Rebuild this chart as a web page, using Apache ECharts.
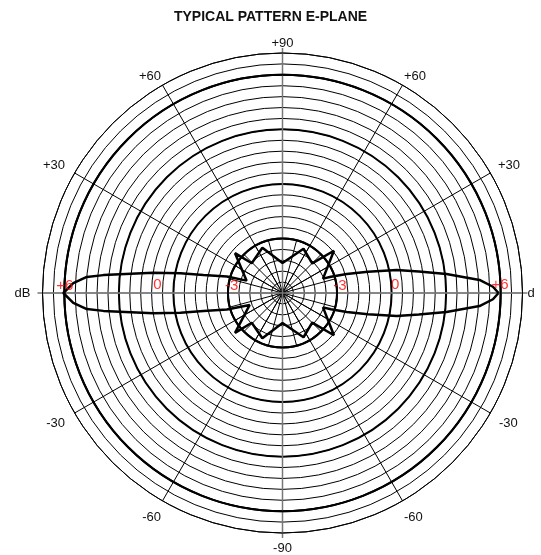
<!DOCTYPE html>
<html><head><meta charset="utf-8">
<script src="https://cdn.jsdelivr.net/npm/echarts@6/dist/echarts.min.js"></script>
<style>html,body{margin:0;padding:0;background:#fff}#c{width:541px;height:555px}</style>
</head><body><div id="c"></div>
<script>
// ---- data ----
const chartTitle = 'TYPICAL PATTERN E-PLANE';
const ringCount = 22;          // number of grid rings
const thickRingStep = 5;       // every 5th ring is bold
const thickRingMax = 20;
const innerSpokeRing = 5;      // extra 15° spokes reach this ring
const angleTickValues = [0, 30, 60, 90, 120, 150, 180, 210, 240, 270, 300, 330];
const angleTickLabels = ['d', '+30', '+60', '+90', '+60', '+30', 'dB', '-30', '-60', '-90', '-60', '-30'];

// pattern (angle in degrees counter-clockwise from right, radius in ring units)
const patternAngle = [0, 1.7, 3.8, 6.6, 9.0, 11.4, 14.0, 16.5, 18.5, 19.5, 39.4, 45, 64.6, 90, 114, 136, 140, 161, 163.5, 167.2, 169.1, 171.1, 174.3, 175.3, 177.3, 180,
  182.7, 184.7, 185.7, 188.9, 190.9, 192.8, 196.5, 200, 220, 224, 246, 270, 295.4, 315, 320.6, 340.5, 341.5, 343.5, 346, 348.6, 351, 353.4, 356.2, 358.3, 360];
const patternRing = [19.80, 19.30, 18.10, 15.13, 12.65, 10.68, 8.07, 6.14, 4.68, 3.94, 6.10, 3.85, 4.49, 2.75, 4.54, 3.92, 5.68, 3.48, 5.32, 7.43, 9.53, 12.01, 16.50, 18.00, 19.20, 20.09,
  19.20, 18.00, 16.50, 12.01, 9.53, 7.43, 5.32, 3.20, 5.68, 3.92, 4.54, 2.75, 4.49, 3.85, 6.10, 3.94, 4.68, 6.14, 8.07, 10.68, 12.65, 15.13, 18.10, 19.30, 19.80];

const dbLabelText = ['+6', '0', '-3', '-3', '0', '+6'];
const dbLabelAngle = [178, 176.3, 172.2, 6.9, 4.1, 2.1];
const dbLabelRing = [19.97, 11.5, 4.7, 5.3, 10.36, 19.95];

// ---- chart ----
const CX = 282.5, CY = 293, R = 240;
const font = 'Arial, "Liberation Sans", Helvetica, sans-serif';
const chart = echarts.init(document.getElementById('c'), null, {renderer: 'canvas'});

// per-label padding (style only) for angle labels
const anglePad = {0: [0, 0, 0, 2], 30: [0, 0, 0, 5], 60: [0, 0, 0, 0], 90: [0, 0, 0, 0], 120: [0, 0, 0, 0],
  150: [0, 7, 0, 0], 180: [0, 9, 0, 0], 210: [2, 7, 0, 0], 240: [7, 0, 0, 0], 270: [6, 0, 0, 0],
  300: [7, 0, 0, 0], 330: [2, 0, 0, 6]};
const labelMap = {};
const rich = {};
angleTickValues.forEach((v, i) => {
  labelMap[v] = angleTickLabels[i];
  rich['a' + v] = {padding: anglePad[v], color: '#111', fontFamily: font, fontSize: 13};
});

const none = {show: false};
const option = {
  animation: false,
  backgroundColor: '#fff',
  title: {
    text: chartTitle, left: 'center', top: 5,
    textStyle: {fontFamily: font, fontSize: 14, fontWeight: 'bold', color: '#111'}
  },
  polar: [
    {center: [CX, CY], radius: R},
    {center: [CX, CY], radius: R * innerSpokeRing / ringCount},
    {center: [CX, CY], radius: R * thickRingMax / ringCount},
    {center: [CX, CY], radius: R + 5}
  ],
  angleAxis: [
    {
      polarIndex: 0, type: 'value', min: 0, max: 360, interval: 30, startAngle: 0, clockwise: false,
      axisLine: {show: true, lineStyle: {color: '#000', width: 1}},
      axisTick: none,
      splitLine: {show: true, lineStyle: {color: ['#777', '#000', '#000'], width: 1}},
      axisLabel: {
        show: true, margin: 3, color: '#111', fontFamily: font, fontSize: 13,
        formatter: v => labelMap[v] !== undefined ? '{a' + v + '|' + labelMap[v] + '}' : '',
        rich: rich
      }
    },
    {
      polarIndex: 1, type: 'value', min: 0, max: 360, interval: 15, startAngle: 0, clockwise: false,
      axisLine: {show: true, lineStyle: {color: '#000', width: 2}},
      axisTick: none, axisLabel: none,
      splitLine: {show: true, lineStyle: {color: ['#777', '#000', '#000', '#000', '#000', '#000'], width: 1}}
    },
    {
      polarIndex: 2, type: 'value', min: 0, max: 360, interval: 90, startAngle: 0, clockwise: false,
      axisLine: {show: true, lineStyle: {color: '#000', width: 2}},
      axisTick: none, axisLabel: none, splitLine: none
    },
    {
      polarIndex: 3, type: 'value', min: 0, max: 360, interval: 90, startAngle: 0, clockwise: false,
      axisLine: none, axisTick: none, axisLabel: none,
      splitLine: {show: true, lineStyle: {color: '#777', width: 1.5}}
    }
  ],
  radiusAxis: [
    {
      polarIndex: 0, type: 'value', min: 0, max: ringCount, interval: 1,
      axisLine: none, axisTick: none, axisLabel: none,
      splitLine: {show: true, lineStyle: {color: '#000', width: 1}}
    },
    {polarIndex: 1, type: 'value', min: 0, max: 1, show: false},
    {
      polarIndex: 2, type: 'value', min: 0, max: thickRingMax, interval: thickRingStep,
      axisLine: none, axisTick: none, axisLabel: none,
      splitLine: {show: true, lineStyle: {color: '#000', width: 2}}
    },
    {polarIndex: 3, type: 'value', min: 0, max: 1, show: false}
  ],
  series: [
    {
      type: 'line', coordinateSystem: 'polar', polarIndex: 0,
      data: patternAngle.map((a, i) => [patternRing[i], a]),
      showSymbol: false, symbol: 'none', smooth: false,
      lineStyle: {color: '#000', width: 2.5}, z: 10
    },
    {
      type: 'scatter', coordinateSystem: 'polar', polarIndex: 0,
      data: dbLabelText.map((t, i) => ({value: [dbLabelRing[i], dbLabelAngle[i]], name: t})),
      symbolSize: 0, z: 100, zlevel: 1, silent: true,
      label: {
        show: true, position: 'inside', formatter: p => p.name,
        color: '#ff0000', fontFamily: font, fontSize: 15
      }
    }
  ]
};
chart.setOption(option);
</script>
</body></html>
